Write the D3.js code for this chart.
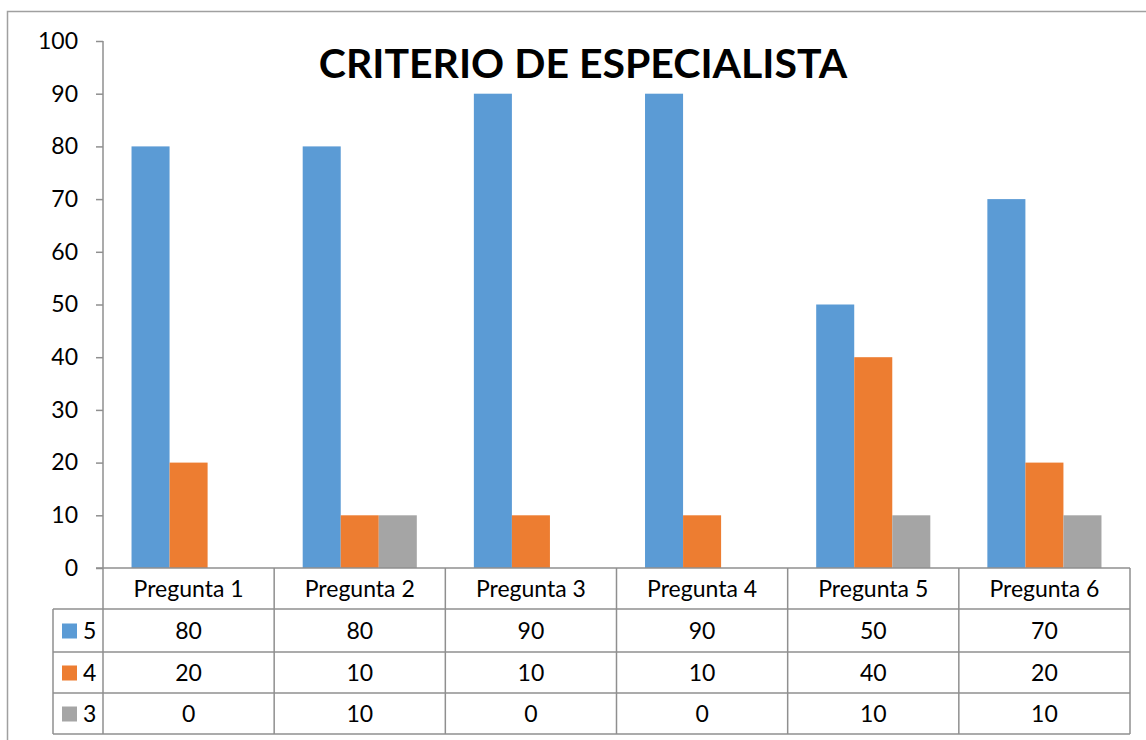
<!DOCTYPE html>
<html>
<head>
<meta charset="utf-8">
<script src="https://cdn.jsdelivr.net/npm/d3@7"></script>
<style>
  body { margin: 0; background: #fff; }
  text { font-family: Lato, "Open Sans", sans-serif; fill: #000; }
</style>
</head>
<body>
<script>

var categories = ["Pregunta 1", "Pregunta 2", "Pregunta 3", "Pregunta 4", "Pregunta 5", "Pregunta 6"],
    seriesNames = ["5", "4", "3"],
    values5 = [80, 80, 90, 90, 50, 70],
    values4 = [20, 10, 10, 10, 40, 20],
    values3 = [0, 10, 0, 0, 10, 10],
    yTicks = [0, 10, 20, 30, 40, 50, 60, 70, 80, 90, 100];

var colors = ["#5b9bd5", "#ed7d31", "#a5a5a5"],
    lineColor = "#8f8f8f",
    fontSize = 23;

var width = 1146,
    height = 740,
    plotLeft = 103, plotRight = 1130,
    plotTop = 41, plotBase = 568,
    rowH = [41, 43, 41, 41],
    legendLeft = 53;

var series = [values5, values4, values3];

var svg = d3.select("body").append("svg")
    .attr("width", width)
    .attr("height", height);

// chart frame
svg.append("rect")
    .attr("x", 7.5).attr("y", 11.5)
    .attr("width", 1200).attr("height", 800)
    .attr("fill", "none")
    .attr("stroke", "#a0a0a0")
    .attr("stroke-width", 1.5);

var x0 = d3.scaleBand()
    .domain(categories)
    .range([plotLeft, plotRight]);

var x1 = d3.scaleBand()
    .domain(seriesNames)
    .range([0, x0.bandwidth()])
    .paddingOuter(0.75);

var y = d3.scaleLinear()
    .domain([0, 100])
    .range([plotBase, plotTop]);

// bars
var groups = svg.selectAll(".grp")
    .data(categories)
    .enter().append("g")
        .attr("transform", function(d) { return "translate(" + x0(d) + ",0)"; });

groups.selectAll("rect")
    .data(function(d, i) { return series.map(function(s, j) { return { name: seriesNames[j], value: s[i], k: j }; }); })
    .enter().append("rect")
        .attr("x", function(d) { return x1(d.name); })
        .attr("y", function(d) { return y(d.value); })
        .attr("width", x1.bandwidth())
        .attr("height", function(d) { return plotBase - y(d.value); })
        .attr("fill", function(d) { return colors[d.k]; });

// y axis
var yAxis = svg.append("g")
    .attr("transform", "translate(" + plotLeft + ",0)")
    .call(d3.axisLeft(y).tickValues(yTicks).tickSize(7).tickPadding(18));

yAxis.select(".domain").remove();
yAxis.selectAll("line").attr("stroke", lineColor).attr("stroke-width", 1.5);
yAxis.selectAll("text")
    .style("font-family", "Lato, sans-serif")
    .attr("font-size", fontSize);

// table
var rowY = [plotBase];
rowH.forEach(function(h) { rowY.push(rowY[rowY.length - 1] + h); });

var lines = svg.append("g")
    .attr("stroke", lineColor)
    .attr("stroke-width", 1.5);

// axis / header top line
lines.append("line")
    .attr("x1", plotLeft - 7).attr("x2", plotRight)
    .attr("y1", plotBase).attr("y2", plotBase);

// row lines
rowY.slice(1).forEach(function(yy) {
    lines.append("line")
        .attr("x1", legendLeft).attr("x2", plotRight)
        .attr("y1", yy).attr("y2", yy);
});

// vertical lines
lines.append("line")
    .attr("x1", plotLeft).attr("x2", plotLeft)
    .attr("y1", plotTop).attr("y2", rowY[4]);
lines.append("line")
    .attr("x1", legendLeft).attr("x2", legendLeft)
    .attr("y1", rowY[1]).attr("y2", rowY[4]);
categories.forEach(function(c) {
    var xx = x0(c) + x0.bandwidth();
    lines.append("line")
        .attr("x1", xx).attr("x2", xx)
        .attr("y1", plotBase).attr("y2", rowY[4]);
});

// header labels
svg.selectAll(".cat")
    .data(categories)
    .enter().append("text")
        .attr("x", function(d) { return x0(d) + x0.bandwidth() / 2; })
        .attr("y", (rowY[0] + rowY[1]) / 2)
        .attr("dy", "0.35em")
        .attr("text-anchor", "middle")
        .attr("font-size", fontSize)
        .text(function(d) { return d; });

// value rows
series.forEach(function(s, j) {
    var cy = (rowY[j + 1] + rowY[j + 2]) / 2;
    svg.append("rect")
        .attr("x", 62).attr("y", cy - 7)
        .attr("width", 15).attr("height", 15)
        .attr("fill", colors[j]);
    svg.append("text")
        .attr("x", 83).attr("y", cy)
        .attr("dy", "0.35em")
        .attr("font-size", fontSize)
        .text(seriesNames[j]);
    svg.selectAll(".v" + j)
        .data(s)
        .enter().append("text")
            .attr("x", function(d, i) { return x0(categories[i]) + x0.bandwidth() / 2; })
            .attr("y", cy)
            .attr("dy", "0.35em")
            .attr("text-anchor", "middle")
            .attr("font-size", fontSize)
            .text(function(d) { return d; });
});

// title
svg.append("text")
    .attr("x", 583)
    .attr("y", 78)
    .attr("text-anchor", "middle")
    .attr("font-size", 41)
    .attr("font-weight", "bold")
    .text("CRITERIO DE ESPECIALISTA");

</script>
</body>
</html>
